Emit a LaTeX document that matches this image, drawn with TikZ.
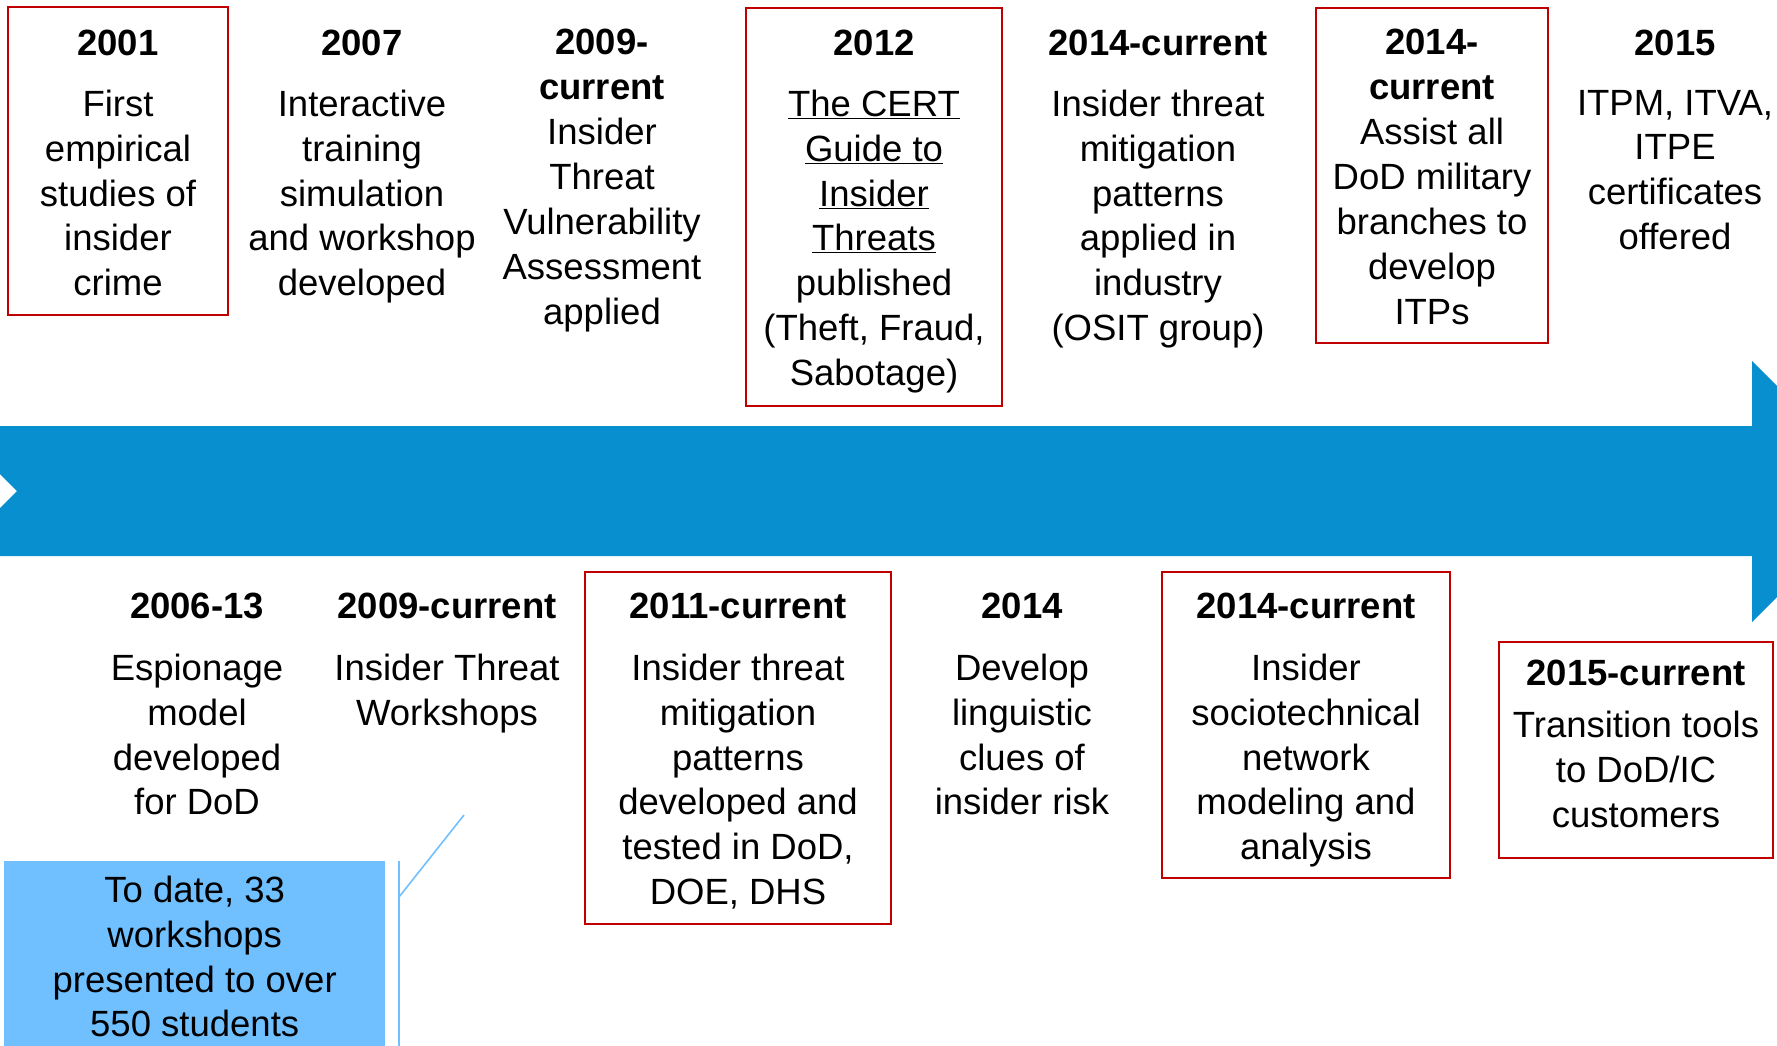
\documentclass[tikz,border=0pt]{standalone}
\usepackage{fontspec}
\setmainfont{Liberation Sans}
\usepackage{tikz}
\usetikzlibrary{positioning}
\definecolor{barblue}{RGB}{8,143,207}
\definecolor{noteblue}{RGB}{112,192,255}
\definecolor{framered}{RGB}{192,0,0}
\newcommand{\tlstrut}{\rule{0pt}{30pt}}
\tikzset{
  yearlbl/.style={font=\fontsize{36.5pt}{44.6pt}\selectfont\bfseries, align=center,
    inner sep=0pt, anchor=north, execute at begin node=\tlstrut},
  desclbl/.style={font=\fontsize{36.5pt}{44.8pt}\selectfont, align=center,
    inner sep=0pt, anchor=north},
  notebox/.style={fill=noteblue, font=\fontsize{36.5pt}{44.6pt}\selectfont, align=center,
    inner sep=0pt},
  framebox/.style={draw=framered, line width=2pt},
  callout/.style={draw=noteblue, line width=1.6pt}
}

\begin{document}
\begin{tikzpicture}[x=1pt, y=-1pt]
\useasboundingbox (0,0) rectangle (1777,1046);
\clip (0,0) rectangle (1777,1046);

\fill[barblue] (-48,426) -- (1752,426) -- (1752,361) -- (1882.5,491.5) -- (1752,622)
  -- (1752,556) -- (-48,556) -- (17,491) -- cycle;

\draw[framebox] (8,7) rectangle (228,315);
\draw[framebox] (746,8) rectangle (1002,406);
\draw[framebox] (1316,8) rectangle (1548,343);
\draw[framebox] (585,572) rectangle (891,924);
\draw[framebox] (1162,572) rectangle (1450,878);
\draw[framebox] (1499,642) rectangle (1773,858);

\node[yearlbl] (y1) at (118,25) {2001};
\node[desclbl, below=34pt of y1] (d1) {First\\empirical\\studies of\\insider\\crime};
\node[yearlbl] (y2) at (362,25) {2007};
\node[desclbl, below=34pt of y2] (d2) {Interactive\\training\\simulation\\and workshop\\developed};
\node[yearlbl] (y3) at (602,29) {2009-\\current};
\node[desclbl, below=18.4pt of y3] (d3) {Insider\\Threat\\Vulnerability\\Assessment\\applied};
\node[yearlbl] (y4) at (874,25) {2012};
\node[desclbl, below=34pt of y4] (d4) {\underline{The CERT}\\\underline{Guide to}\\\underline{Insider}\\\underline{Threats}\\published\\(Theft, Fraud,\\Sabotage)};
\node[yearlbl] (y5) at (1158,25) {2014-current};
\node[desclbl, below=34pt of y5] (d5) {Insider threat\\mitigation\\patterns\\applied in\\industry\\(OSIT group)};
\node[yearlbl] (y6) at (1432,29) {2014-\\current};
\node[desclbl, below=18.4pt of y6] (d6) {Assist all\\DoD military\\branches to\\develop\\ITPs};
\node[yearlbl] (y7) at (1675,25) {2015};
\node[desclbl, below=34pt of y7] (d7) {ITPM, ITVA,\\ITPE\\certificates\\offered};

\node[yearlbl] (y8) at (197,588) {2006-13};
\node[desclbl, below=35pt of y8] (d8) {Espionage\\model\\developed\\for DoD};
\node[yearlbl] (y9) at (447,588) {2009-current};
\node[desclbl, below=35pt of y9] (d9) {Insider Threat\\Workshops};
\node[yearlbl] (y10) at (738,588) {2011-current};
\node[desclbl, below=35pt of y10] (d10) {Insider threat\\mitigation\\patterns\\developed and\\tested in DoD,\\DOE, DHS};
\node[yearlbl] (y11) at (1022,588) {2014};
\node[desclbl, below=35pt of y11] (d11) {Develop\\linguistic\\clues of\\insider risk};
\node[yearlbl] (y12) at (1306,588) {2014-current};
\node[desclbl, below=35pt of y12] (d12) {Insider\\sociotechnical\\network\\modeling and\\analysis};
\node[yearlbl] (y13) at (1636,655) {2015-current};
\node[desclbl, below=25pt of y13] (d13) {Transition tools\\to DoD/IC\\customers};

\node[notebox, anchor=north west, minimum width=381pt, minimum height=191pt] (note) at (4,861)
  {To date, 33\\workshops\\presented to over\\550 students};

\coordinate (ctop) at (399,861);
\coordinate (cbot) at (399,1046);
\coordinate (cbend) at (399,897);
\coordinate (ctip) at (464,815);
\draw[callout] (ctop) -- (cbot);
\draw[callout] (cbend) -- (ctip);
\end{tikzpicture}
\end{document}
